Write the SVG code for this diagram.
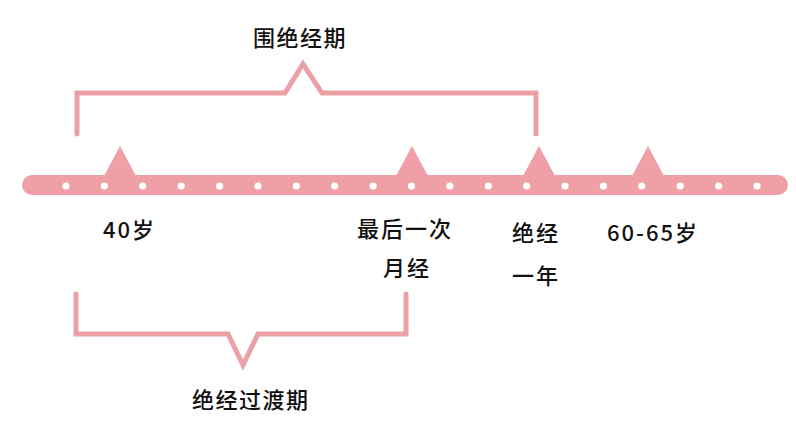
<svg xmlns="http://www.w3.org/2000/svg" width="796" height="431" viewBox="0 0 796 431">
  <style>
    .bar { fill: #EFA0A6; }
    .dot { fill: #FFFFFF; }
    .tri { fill: #EFA0A6; }
    .br { fill: none; stroke: #EBA0A5; stroke-width: 5; stroke-linecap: round; stroke-linejoin: miter; }
    .hd { font-family: "Noto Sans CJK SC", "Liberation Sans", sans-serif; font-size: 22px; fill: #111111; letter-spacing: 1.5px; font-weight: 500; }
    .lb { font-family: "Noto Sans CJK SC", "Liberation Sans", sans-serif; font-size: 22px; fill: #111111; letter-spacing: 2px; font-weight: 500; }
  </style>
  <rect width="796" height="431" fill="#FFFFFF"/>
  <g id="timeline">
    <rect class="bar" x="22" y="175" width="766" height="20" rx="10" ry="10"/>
    <polygon class="tri" points="104,176 120,146 136,176"/>
    <polygon class="tri" points="396,176 412,146 428,176"/>
    <polygon class="tri" points="523,176 539,146 555,176"/>
    <polygon class="tri" points="632,176 648,146 664,176"/>
    <g id="dots">
      <circle class="dot" cx="66" cy="186" r="3.6"/>
      <circle class="dot" cx="104.4" cy="186" r="3.6"/>
      <circle class="dot" cx="142.8" cy="186" r="3.6"/>
      <circle class="dot" cx="181.2" cy="186" r="3.6"/>
      <circle class="dot" cx="219.6" cy="186" r="3.6"/>
      <circle class="dot" cx="258" cy="186" r="3.6"/>
      <circle class="dot" cx="296.3" cy="186" r="3.6"/>
      <circle class="dot" cx="334.7" cy="186" r="3.6"/>
      <circle class="dot" cx="373.1" cy="186" r="3.6"/>
      <circle class="dot" cx="411.5" cy="186" r="3.6"/>
      <circle class="dot" cx="449.9" cy="186" r="3.6"/>
      <circle class="dot" cx="488.3" cy="186" r="3.6"/>
      <circle class="dot" cx="526.7" cy="186" r="3.6"/>
      <circle class="dot" cx="565" cy="186" r="3.6"/>
      <circle class="dot" cx="603.4" cy="186" r="3.6"/>
      <circle class="dot" cx="641.8" cy="186" r="3.6"/>
      <circle class="dot" cx="680.2" cy="186" r="3.6"/>
      <circle class="dot" cx="718.6" cy="186" r="3.6"/>
      <circle class="dot" cx="757" cy="186" r="3.6"/>
    </g>
  </g>
  <g id="connectors">
    <path class="br" d="M77,134 V93 H285 L303,64 L322,93 H536 V134"/>
    <path class="br" d="M76,294 V334 H228 L243,365 L258,334 H406 V294"/>
  </g>
  <g id="label-perimenopause"><text class="hd" x="253" y="46">围绝经期</text></g>
  <g id="label-transition"><text class="hd" x="192" y="408">绝经过渡期</text></g>
  <g id="label-40"><text class="lb" x="103" y="238" letter-spacing="0.5">40岁</text></g>
  <g id="label-last"><text class="lb" x="357" y="237">最后一次</text><text class="lb" x="383" y="276">月经</text></g>
  <g id="label-year"><text class="lb" x="512" y="241">绝经</text><text class="lb" x="512" y="284">一年</text></g>
  <g id="label-60"><text class="lb" x="607" y="241" letter-spacing="0.5">60-65岁</text></g>
</svg>
